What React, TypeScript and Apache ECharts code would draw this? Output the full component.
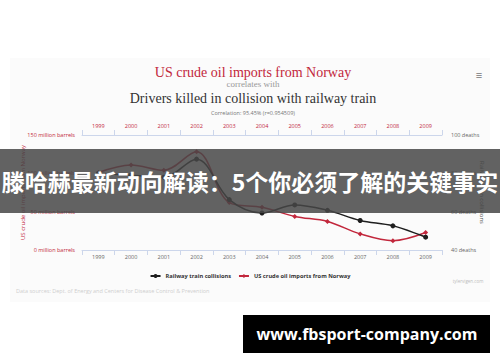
import React, { useEffect, useRef } from "react";
import * as echarts from "echarts";

const years = ["1999", "2000", "2001", "2002", "2003", "2004", "2005", "2006", "2007", "2008", "2009"];
const railwayCollisions = [80, 79, 78, 87.4, 66.3, 59.3, 63.5, 60.7, 55.4, 52.6, 46.7];
const oilImportsNorway = [101, 110.9, 104, 128, 61.8, 55.7, 43.8, 37.2, 21, 12.2, 22.8];
const leftTicks = { min: 0, max: 150, interval: 50 };
const rightTicks = { min: 40, max: 100, interval: 20 };

const RED = "#c2273c";
const BLACK = "#1e1e1e";

export default function App() {
  const ref = useRef<HTMLDivElement>(null);
  useEffect(() => {
    if (!ref.current) return;
    const chart = echarts.init(ref.current, null, { renderer: "svg" });
    const sans = "'Open Sans', 'Noto Sans', sans-serif";
    const serif = "'Liberation Serif', 'DejaVu Serif', serif";
    chart.setOption({
      animation: false,
      backgroundColor: "#ffffff",
      grid: { left: 82, right: 58, top: 135, bottom: 112, containLabel: false },
      legend: {
        top: 268,
        left: "center",
        itemWidth: 10,
        itemHeight: 5,
        itemGap: 7,
        textStyle: { fontSize: 5.7, fontWeight: "bold", color: "#333", fontFamily: sans },
        data: ["Railway train collisions", "US crude oil imports from Norway"],
      },
      xAxis: [
        {
          type: "category",
          data: years,
          position: "bottom",
          boundaryGap: true,
          axisLine: { lineStyle: { color: "#ccd6eb", width: 1 } },
          axisTick: { show: true, length: 5, lineStyle: { color: "#ccd6eb" } },
          axisLabel: { color: "#666", fontSize: 5.5, margin: 4, fontFamily: sans },
        },
        {
          type: "category",
          data: years,
          position: "top",
          boundaryGap: true,
          axisLine: { lineStyle: { color: "#ccd6eb", width: 1 } },
          axisTick: { show: true, length: 5, lineStyle: { color: "#ccd6eb" } },
          axisLabel: { color: RED, fontSize: 5.5, margin: 6, fontFamily: sans },
        },
      ],
      yAxis: [
        {
          type: "value",
          position: "left",
          min: leftTicks.min,
          max: leftTicks.max,
          interval: leftTicks.interval,
          name: "US crude oil imports from Norway",
          nameLocation: "middle",
          nameGap: 56,
          nameMoveOverlap: false,
          nameTextStyle: { color: RED, fontSize: 6, fontFamily: sans },
          axisLine: { show: false },
          axisTick: { show: false },
          splitLine: { show: false },
          axisLabel: { color: RED, fontSize: 5.5, margin: 7, fontFamily: sans, formatter: "{value} million barrels" },
        },
        {
          type: "value",
          position: "right",
          min: rightTicks.min,
          max: rightTicks.max,
          interval: rightTicks.interval,
          name: "Railway train collisions",
          nameLocation: "middle",
          nameGap: 37,
          nameRotate: -90,
          nameMoveOverlap: false,
          nameTextStyle: { color: "#555", fontSize: 6, fontFamily: sans },
          axisLine: { show: false },
          axisTick: { show: false },
          splitLine: { show: false },
          axisLabel: { color: "#666", fontSize: 5.5, margin: 9, fontFamily: sans, formatter: "{value} deaths" },
        },
      ],
      series: [
        {
          name: "Railway train collisions",
          type: "line",
          xAxisIndex: 0,
          yAxisIndex: 1,
          data: railwayCollisions,
          smooth: 0.35,
          symbol: "circle",
          symbolSize: 5,
          lineStyle: { color: BLACK, width: 1.5 },
          itemStyle: { color: BLACK },
          z: 3,
        },
        {
          name: "US crude oil imports from Norway",
          type: "line",
          xAxisIndex: 0,
          yAxisIndex: 0,
          data: oilImportsNorway,
          smooth: 0.35,
          symbol: "diamond",
          symbolSize: 5,
          lineStyle: { color: RED, width: 1.5 },
          itemStyle: { color: RED },
          z: 2,
        },
      ],
      graphic: [
        {
          type: "rect",
          shape: { x: 10, y: 58, width: 480, height: 244 },
          style: { fill: "#fbfbfb" },
          z: -10,
          silent: true,
        },
        {
          type: "text",
          x: 253,
          y: 72,
          style: { text: "US crude oil imports from Norway", fill: RED, font: `14px ${serif}`, textAlign: "center", textVerticalAlign: "middle" },
        },
        {
          type: "text",
          x: 253,
          y: 84,
          style: { text: "correlates with", fill: "#999", font: `9px ${serif}`, textAlign: "center", textVerticalAlign: "middle" },
        },
        {
          type: "text",
          x: 253,
          y: 98,
          style: { text: "Drivers killed in collision with railway train", fill: "#333", font: `14px ${serif}`, textAlign: "center", textVerticalAlign: "middle" },
        },
        {
          type: "text",
          x: 253,
          y: 113,
          style: { text: "Correlation: 95.45% (r=0.954509)", fill: "#777", font: `5.5px ${sans}`, textAlign: "center", textVerticalAlign: "middle" },
        },
        {
          type: "text",
          x: 479,
          y: 74,
          style: { text: "≡", fill: "#777", font: `bold 11px ${sans}`, textAlign: "center", textVerticalAlign: "middle" },
        },
        {
          type: "text",
          x: 16,
          y: 291,
          style: { text: "Data sources: Dept. of Energy and Centers for Disease Control & Prevention", fill: "#cfcfcf", font: `5.5px ${sans}`, textAlign: "left", textVerticalAlign: "middle" },
        },
        {
          type: "text",
          x: 468,
          y: 281,
          style: { text: "tylervigen.com", fill: "#bbb", font: `4.5px ${sans}`, textAlign: "center", textVerticalAlign: "middle" },
        },
        {
          type: "rect",
          shape: { x: 0, y: 149, width: 500, height: 64 },
          style: { fill: "rgba(70,70,70,0.85)" },
          z: 100,
          silent: true,
        },
        {
          type: "text",
          x: 250,
          y: 181,
          z: 101,
          style: { text: "滕哈赫最新动向解读：5个你必须了解的关键事实", fill: "#ffffff", font: `bold 23px 'Noto Sans CJK SC', sans-serif`, textAlign: "center", textVerticalAlign: "middle" },
        },
        {
          type: "rect",
          shape: { x: 243, y: 315, width: 247, height: 38 },
          style: { fill: "#000000" },
          z: 100,
          silent: true,
        },
        {
          type: "text",
          x: 367,
          y: 334,
          z: 101,
          style: { text: "www.fbsport-company.com", fill: "#ffffff", font: `bold 16px 'Open Sans', 'Noto Sans', sans-serif`, textAlign: "center", textVerticalAlign: "middle" },
        },
      ],
    });
    return () => chart.dispose();
  }, []);
  return <div ref={ref} style={{ position: "fixed", left: 0, top: 0, width: 500, height: 362 }} />;
}
